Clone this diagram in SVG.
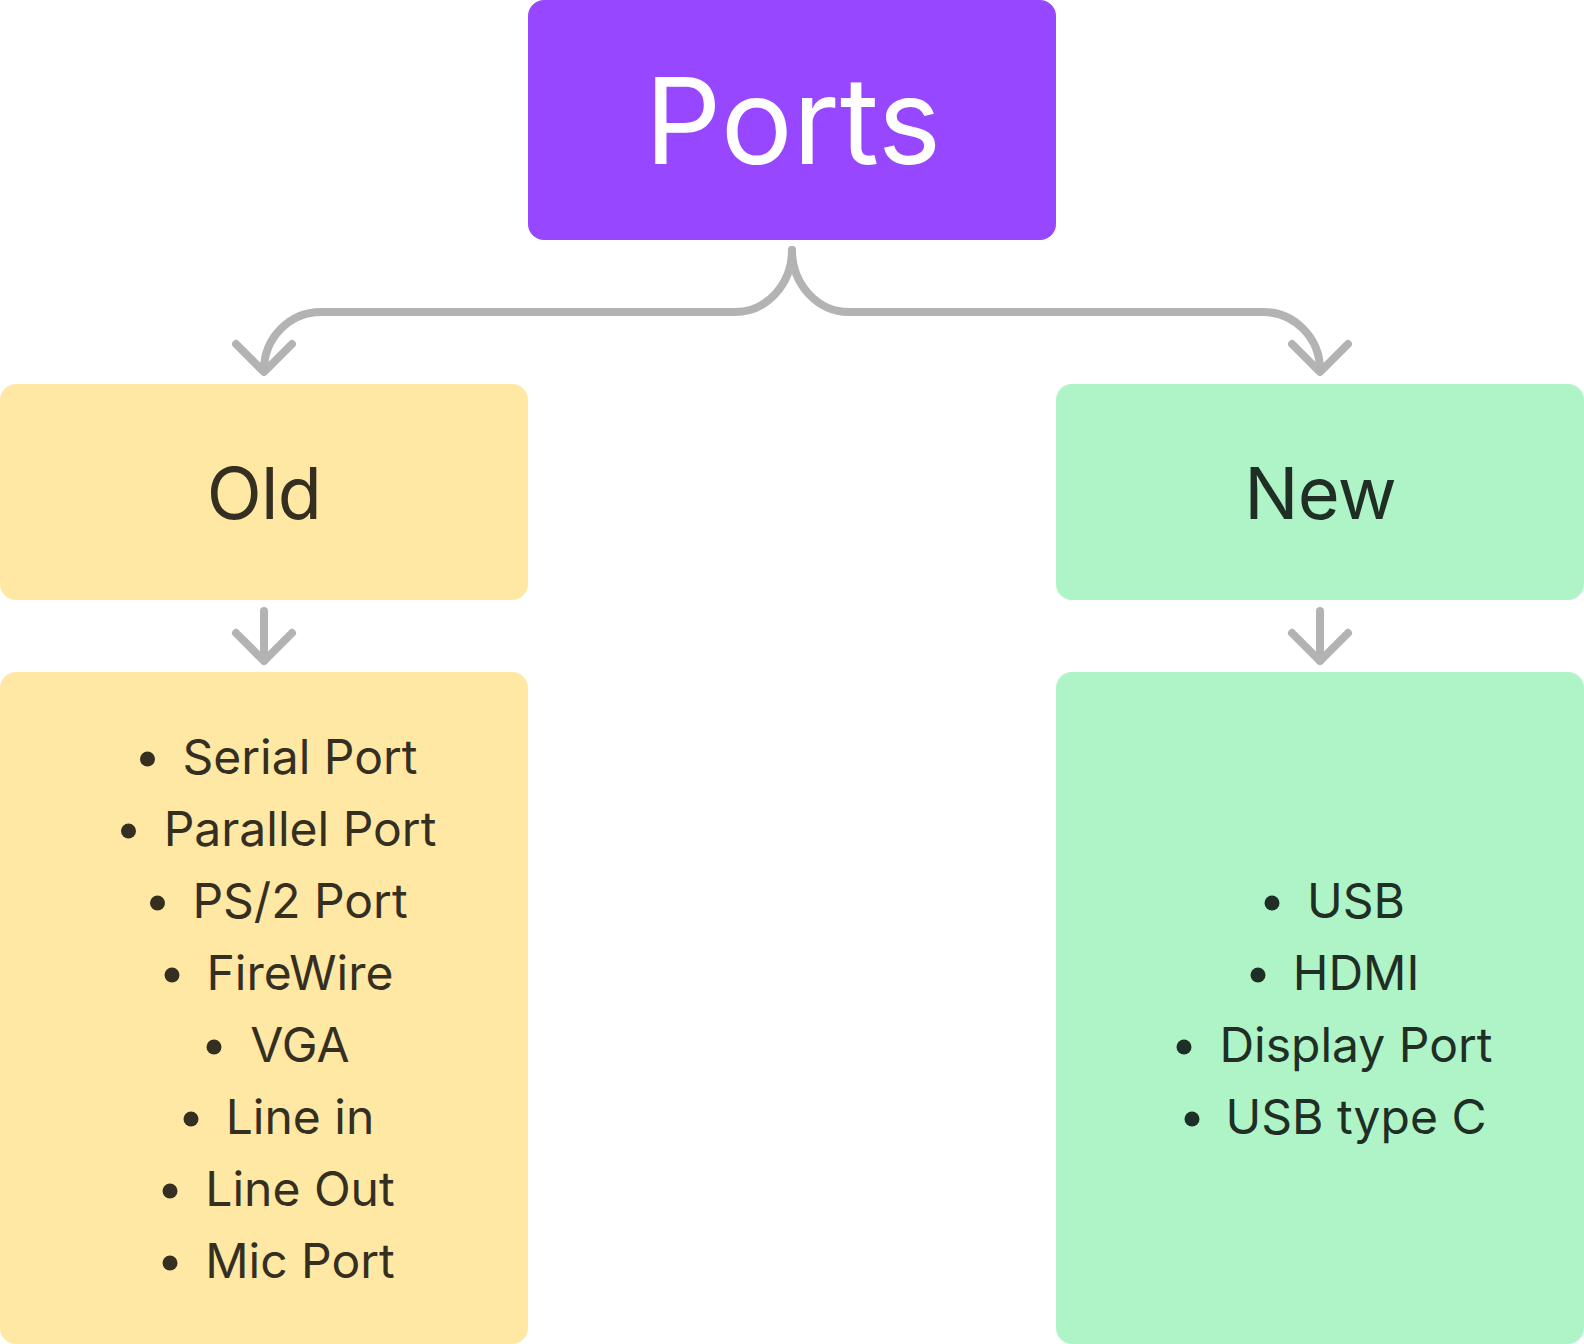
<svg xmlns="http://www.w3.org/2000/svg" width="1584" height="1344" viewBox="0 0 1584 1344">
<style>
  .conn { fill: none; stroke: #b3b3b3; stroke-width: 8; stroke-linecap: round; stroke-linejoin: round; }
  .title { font-family: Inter, "Noto Sans", "Liberation Sans", sans-serif; font-size: 120px; fill: #ffffff; text-anchor: middle; }
  .head { font-family: Inter, "Noto Sans", "Liberation Sans", sans-serif; font-size: 72px; text-anchor: middle; letter-spacing: -0.01em; }
  .item { font-family: Inter, "Noto Sans", "Liberation Sans", sans-serif; font-size: 48px; text-anchor: middle; }
  .old { fill: #352f22; }
  .new { fill: #1f2f25; }
</style>
<rect width="1584" height="1344" fill="#ffffff"/>
<g id="connectors">
  <path class="conn" d="M792 250 A57 62 0 0 1 735 312 L321 312 A57 58 0 0 0 264 370"/>
  <path class="conn" d="M236 344 L264 372 L292 344"/>
  <path class="conn" d="M792 250 A57 62 0 0 0 849 312 L1263 312 A57 58 0 0 1 1320 370"/>
  <path class="conn" d="M1292 344 L1320 372 L1348 344"/>
  <path class="conn" d="M264 611 L264 661 M236 633 L264 661 L292 633"/>
  <path class="conn" d="M1320 611 L1320 661 M1292 633 L1320 661 L1348 633"/>
</g>
<g id="ports">
  <rect x="528" y="0" width="528" height="240" rx="16" fill="#9747ff"/>
  <text class="title" x="793" y="164">Ports</text>
</g>
<g id="old">
  <rect x="0" y="384" width="528" height="216" rx="16" fill="#ffe8a3"/>
  <text class="head old" x="264" y="519">Old</text>
</g>
<g id="new">
  <rect x="1056" y="384" width="528" height="216" rx="16" fill="#aff4c6"/>
  <text class="head new" x="1320" y="519">New</text>
</g>
<g id="old-list">
  <rect x="0" y="672" width="528" height="672" rx="16" fill="#ffe8a3"/>
  <g class="old">
    <circle cx="147.5" cy="759" r="7.5"/><text class="item" x="300" y="774">Serial Port</text>
    <circle cx="128.5" cy="831" r="7.5"/><text class="item" x="300" y="846">Parallel Port</text>
    <circle cx="157.5" cy="903" r="7.5"/><text class="item" x="300" y="918">PS/2 Port</text>
    <circle cx="172" cy="975" r="7.5"/><text class="item" x="300" y="990">FireWire</text>
    <circle cx="214" cy="1047" r="7.5"/><text class="item" x="300" y="1062">VGA</text>
    <circle cx="191" cy="1119" r="7.5"/><text class="item" x="300" y="1134">Line in</text>
    <circle cx="170" cy="1191" r="7.5"/><text class="item" x="300" y="1206">Line Out</text>
    <circle cx="170" cy="1263" r="7.5"/><text class="item" x="300" y="1278">Mic Port</text>
  </g>
</g>
<g id="new-list">
  <rect x="1056" y="672" width="528" height="672" rx="16" fill="#aff4c6"/>
  <g class="new">
    <circle cx="1272" cy="903" r="7.5"/><text class="item" x="1356" y="918">USB</text>
    <circle cx="1258" cy="975" r="7.5"/><text class="item" x="1356" y="990">HDMI</text>
    <circle cx="1184" cy="1047" r="7.5"/><text class="item" x="1356" y="1062">Display Port</text>
    <circle cx="1192" cy="1119" r="7.5"/><text class="item" x="1356" y="1134">USB type C</text>
  </g>
</g>
</svg>
